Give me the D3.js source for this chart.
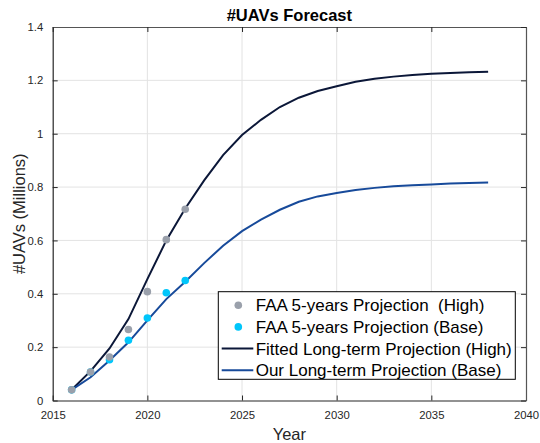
<!DOCTYPE html>
<html lang="en">
<head>
<meta charset="UTF-8">
<title>#UAVs Forecast</title>
<script src="https://cdn.jsdelivr.net/npm/d3@7"></script>
<style>
  body { margin: 0; background: #fff; }
  svg { font-family: "Liberation Sans", Arial, sans-serif; }
  .tick text { fill: #262626; font-size: 11.3px; }
  .grid line { stroke: #e3e3e3; }
  .legend text { font-size: 17px; fill: #000; white-space: pre; }
</style>
</head>
<body>
<script>
// FAA 5-year projections (points)
var faaYears = [2016, 2017, 2018, 2019, 2020, 2021, 2022];
var faaHigh = [0.040, 0.107, 0.163, 0.266, 0.408, 0.603, 0.717];
var faaBase = [0.040, 0.107, 0.153, 0.226, 0.309, 0.404, 0.450];

// long-term projections (lines)
var curveYears = [2016, 2017, 2018, 2019, 2020, 2021, 2022, 2023, 2024, 2025, 2026, 2027,
  2028, 2029, 2030, 2031, 2032, 2033, 2034, 2035, 2036, 2037, 2038];
var fittedHigh = [0.040, 0.110, 0.195, 0.305, 0.455, 0.600, 0.720, 0.825, 0.920, 0.995, 1.052, 1.100,
  1.135, 1.160, 1.178, 1.195, 1.206, 1.214, 1.220, 1.225, 1.228, 1.230, 1.232];
var ourBase = [0.040, 0.087, 0.150, 0.218, 0.300, 0.380, 0.445, 0.515, 0.580, 0.635, 0.678, 0.715,
  0.745, 0.765, 0.778, 0.789, 0.797, 0.803, 0.807, 0.810, 0.813, 0.815, 0.817];

var xTicks = [2015, 2020, 2025, 2030, 2035, 2040];
var yTicks = [0, 0.2, 0.4, 0.6, 0.8, 1, 1.2, 1.4];

var legendLabels = ['FAA 5-years Projection  (High)', 'FAA 5-years Projection (Base)',
  'Fitted Long-term Projection (High)', 'Our Long-term Projection (Base)'];

var colHigh = '#0b1738', colBase = '#174a9a', dotHigh = '#9aa0ab', dotBase = '#00c6fb';

var W = 540, H = 443;
var margin = {top: 27, right: 14, bottom: 42.5, left: 52.7};
var width = W - margin.left - margin.right,
    height = H - margin.top - margin.bottom;

var svg = d3.select('body').append('svg')
  .attr('width', W).attr('height', H);
var g = svg.append('g')
  .attr('transform', 'translate(' + margin.left + ',' + margin.top + ')');

var x = d3.scaleLinear().domain([2015, 2040]).range([0, width]);
var y = d3.scaleLinear().domain([0, 1.4]).range([height, 0]);

// grid
var grid = g.append('g').attr('class', 'grid');
grid.selectAll('.gx').data(xTicks.slice(1, -1)).enter().append('line')
  .attr('x1', d => x(d)).attr('x2', d => x(d)).attr('y1', 0).attr('y2', height);
grid.selectAll('.gy').data(yTicks.slice(1, -1)).enter().append('line')
  .attr('y1', d => y(d)).attr('y2', d => y(d)).attr('x1', 0).attr('x2', width);

// axes, ticks inward like matlab
var fmt = d => String(d);
var axB = g.append('g').attr('transform', 'translate(0,' + height + ')')
  .call(d3.axisBottom(x).tickValues(xTicks).tickFormat(d3.format('d')).tickSizeInner(-5).tickSizeOuter(0).tickPadding(10));
var axL = g.append('g')
  .call(d3.axisLeft(y).tickValues(yTicks).tickFormat(fmt).tickSizeInner(-5).tickSizeOuter(0).tickPadding(9.5));
var axT = g.append('g')
  .call(d3.axisTop(x).tickValues(xTicks).tickFormat('').tickSizeInner(-5).tickSizeOuter(0));
var axR = g.append('g').attr('transform', 'translate(' + width + ',0)')
  .call(d3.axisRight(y).tickValues(yTicks).tickFormat('').tickSizeInner(-5).tickSizeOuter(0));
[axB, axL, axT, axR].forEach(function (a) {
  a.selectAll('path, line').attr('stroke', '#262626');
  a.select('.domain').attr('stroke-width', 1.2);
});
axT.select('.domain').attr('stroke', '#555');
axR.select('.domain').attr('stroke', '#555');

// lines
var line = d3.line().x((d, i) => x(curveYears[i])).y(d => y(d));
g.append('path').datum(fittedHigh).attr('d', line)
  .attr('fill', 'none').attr('stroke', colHigh).attr('stroke-width', 2);
g.append('path').datum(ourBase).attr('d', line)
  .attr('fill', 'none').attr('stroke', colBase).attr('stroke-width', 2);

// points (base first so the grey ones sit on top)
g.selectAll('.pb').data(faaBase).enter().append('circle')
  .attr('cx', (d, i) => x(faaYears[i])).attr('cy', d => y(d)).attr('r', 3.8).attr('fill', dotBase);
g.selectAll('.ph').data(faaHigh).enter().append('circle')
  .attr('cx', (d, i) => x(faaYears[i])).attr('cy', d => y(d)).attr('r', 3.8).attr('fill', dotHigh);

// labels
svg.append('text').attr('x', margin.left + width / 2).attr('y', 20.7)
  .attr('text-anchor', 'middle').style('font-weight', 'bold').style('font-size', '16.5px')
  .text('#UAVs Forecast');
svg.append('text').attr('x', margin.left + width / 2).attr('y', 440)
  .attr('text-anchor', 'middle').style('font-size', '16.5px').attr('fill', '#262626')
  .text('Year');
svg.append('text').attr('transform', 'translate(25,' + (margin.top + height / 2) + ') rotate(-90)')
  .attr('text-anchor', 'middle').style('font-size', '16.5px').attr('fill', '#262626')
  .text('#UAVs (Millions)');

// legend
var lg = svg.append('g').attr('class', 'legend').attr('transform', 'translate(218.3,291.7)');
lg.append('rect').attr('width', 297).attr('height', 87.6)
  .attr('fill', '#fff').attr('stroke', '#000').attr('stroke-width', 1);
var item = lg.selectAll('.item').data(legendLabels).enter().append('g')
  .attr('transform', (d, i) => 'translate(0,' + (13.5 + i * 21.7) + ')');
item.append('text').attr('x', 37.4).attr('y', 6).text(d => d);
item.filter((d, i) => i < 2).append('circle')
  .attr('cx', 20).attr('cy', 0).attr('r', 3.8)
  .attr('fill', (d, i) => i === 0 ? dotHigh : dotBase);
item.filter((d, i) => i >= 2).append('line')
  .attr('x1', 3.4).attr('x2', 35).attr('y1', 0).attr('y2', 0)
  .attr('stroke', (d, i) => i === 0 ? colHigh : colBase).attr('stroke-width', 2);
</script>
</body>
</html>
